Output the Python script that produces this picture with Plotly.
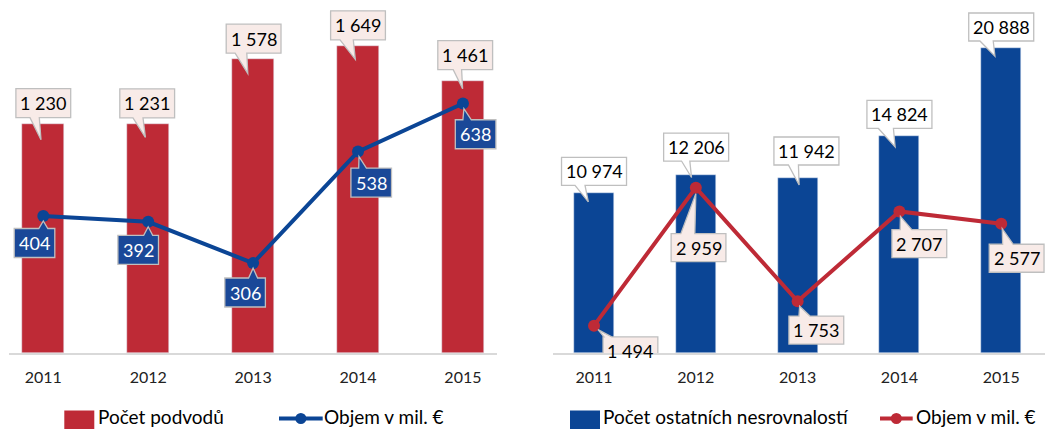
import plotly.graph_objects as go

# ---------------- data ----------------
years = ["2011", "2012", "2013", "2014", "2015"]
fraud_count = [1230, 1231, 1578, 1649, 1461]          # Počet podvodů
fraud_volume = [404, 392, 306, 538, 638]              # Objem v mil. € (left)
other_count = [10974, 12206, 11942, 14824, 20888]     # Počet ostatních nesrovnalostí
other_volume = [1494, 2959, 1753, 2707, 2577]         # Objem v mil. € (right)

legend_left = ["Počet podvodů", "Objem v mil. €"]
legend_right = ["Počet ostatních nesrovnalostí", "Objem v mil. €"]

# ---------------- styles / layout ----------------
W, H = 1048, 429
RED = "#BE2A36"
BLUE = "#0B4595"
PINK = "#F8EBE8"
GRAY = "#BFBFBF"
FONT = "Lato"

# callout placement in pixels relative to the anchor point (up positive):
# (box centre dx, box centre dy, tip dx, tip dy, wedge base x1, wedge base x2)
lb_call = [(0, 21, -2.3, -15.7, -13.3, -4), (-1, 20.5, -2.8, -13.5, -15.2, -5.2),
           (0.5, 20.7, -5.3, -14.1, -18, -6.3), (0, 20.8, -2.7, -13.3, -18, -4.7),
           (2.3, 26, -0.3, -7.7, -9.7, -1.3)]
ll_call = [(-8.8, -27, 0, -5, -4.5, 4.5), (-10, -28, 0, -5, -4.5, 4.5),
           (-8, -29.4, 0, -5, -4.5, 4.5), (13.2, -31, 1, -5, 0.7, 8.4),
           (12.7, -30.7, 1, -5, 0, 8.4)]
rb_call = [(0, 21.1, -5.7, -9.4, -19, -9), (0.3, 27.5, -4.3, -3, -14.3, -6),
           (8.8, 27.4, 1.5, -6.6, -9.2, 0.8), (0, 21.8, -4.3, -10.7, -21, -6),
           (0, 20.6, -6.3, -8.7, -21.3, -8)]
rl_call = [(36.4, -25.2, 4, -4, 9.9, 17.7), (2.7, -60, 0, -6, -15, -1),
           (18.7, -28.8, 2, -5, 1.3, 12.3), (19.9, -32.3, 1, -5, 0.7, 12.4),
           (15.4, -34.6, 1, -5, 1.4, 12)]


def fmt(v):
    return f"{v:,}".replace(",", " ")


def px_x(p):
    return p / W


def px_y(p):
    return 1 - p / H


fig = go.Figure()

# left chart
fig.add_trace(go.Bar(x=list(range(len(years))), y=fraud_count, marker_color=RED,
                     width=0.4, xaxis="x", yaxis="y", showlegend=False,
                     name=legend_left[0]))
fig.add_trace(go.Scatter(x=list(range(len(years))), y=fraud_volume, mode="lines+markers",
                         line=dict(color=BLUE, width=4), marker=dict(size=12, color=BLUE),
                         xaxis="x", yaxis="y2", showlegend=False, name=legend_left[1]))
# right chart
fig.add_trace(go.Bar(x=list(range(len(years))), y=other_count, marker_color=BLUE,
                     width=0.393, xaxis="x2", yaxis="y3", showlegend=False,
                     name=legend_right[0]))
fig.add_trace(go.Scatter(x=list(range(len(years))), y=other_volume, mode="lines+markers",
                         line=dict(color=RED, width=4), marker=dict(size=12, color=RED),
                         xaxis="x2", yaxis="y4", showlegend=False, name=legend_right[1]))

shapes = []
annotations = []


def callout(i, v, xref, yref, spec, fill, txtcolor, h):
    cx, cy, tx, ty, b1, b2 = spec
    text = fmt(v)
    nd = sum(c.isdigit() for c in text)
    ns = text.count(" ")
    w = 10.2 * nd + 4 * ns + 10
    L, R = cx - w / 2, cx + w / 2
    T, B = cy + h / 2, cy - h / 2
    if ty < B:  # wedge on bottom edge
        path = (f"M{L},{T} L{R},{T} L{R},{B} L{b2},{B} L{tx},{ty} "
                f"L{b1},{B} L{L},{B} Z")
    else:       # wedge on top edge
        path = (f"M{L},{B} L{L},{T} L{b1},{T} L{tx},{ty} L{b2},{T} "
                f"L{R},{T} L{R},{B} Z")
    shapes.append(dict(type="path", path=path, xref=xref, yref=yref,
                       xsizemode="pixel", ysizemode="pixel", xanchor=i, yanchor=v,
                       fillcolor=fill, line=dict(color=GRAY, width=1.3), layer="above"))
    annotations.append(dict(x=i, y=v, xref=xref, yref=yref, text=text, showarrow=False,
                            xshift=cx, yshift=cy, xanchor="center", yanchor="middle",
                            font=dict(family=FONT, size=18, color=txtcolor)))


for i, v in enumerate(fraud_count):
    callout(i, v, "x", "y", lb_call[i], PINK, "#000000", 29)
for i, v in enumerate(fraud_volume):
    callout(i, v, "x", "y2", ll_call[i], "#1A4898", "#FFFFFF", 29)
for i, v in enumerate(other_count):
    callout(i, v, "x2", "y3", rb_call[i], "#FFFFFF", "#000000", 28)
for i, v in enumerate(other_volume):
    callout(i, v, "x2", "y4", rl_call[i], PINK, "#000000", 28)

# ---------------- custom legends ----------------
LEG_Y = 416.5


def legend_box(x0, x1, color, label, tx):
    shapes.append(dict(type="rect", xref="paper", yref="paper", x0=px_x(x0), x1=px_x(x1),
                       y0=px_y(430), y1=px_y(410.5), fillcolor=color, line=dict(width=0)))
    annotations.append(dict(x=px_x(tx), y=px_y(LEG_Y), xref="paper", yref="paper",
                            text=label, showarrow=False, xanchor="left", yanchor="middle",
                            font=dict(family=FONT, size=19, color="#000000")))


def legend_line(x0, x1, color, label, tx):
    ly = LEG_Y + 2
    yc = px_y(ly)
    shapes.append(dict(type="line", xref="paper", yref="paper", x0=px_x(x0), x1=px_x(x1),
                       y0=yc, y1=yc, line=dict(color=color, width=4)))
    xm = (x0 + x1) / 2
    shapes.append(dict(type="circle", xref="paper", yref="paper",
                       x0=px_x(xm - 5.5), x1=px_x(xm + 5.5),
                       y0=px_y(ly + 5.5), y1=px_y(ly - 5.5),
                       fillcolor=color, line=dict(width=0)))
    annotations.append(dict(x=px_x(tx), y=px_y(LEG_Y), xref="paper", yref="paper",
                            text=label, showarrow=False, xanchor="left", yanchor="middle",
                            font=dict(family=FONT, size=19, color="#000000")))


legend_box(64.3, 94.3, RED, legend_left[0], 96)
legend_line(279, 322.7, BLUE, legend_left[1], 322)
legend_box(570, 600, BLUE, legend_right[0], 601)
legend_line(880, 912.7, RED, legend_right[1], 914)

ydom = [px_y(353), px_y(5)]
xaxis_common = dict(showgrid=False, zeroline=False, showline=True, linecolor="#D9D9D9",
                    linewidth=1.5, ticks="", tickfont=dict(family=FONT, size=16, color="#222222"),
                    tickvals=list(range(len(years))), ticktext=years, ticklabelstandoff=9,
                    fixedrange=True)
yaxis_common = dict(showgrid=False, zeroline=False, showline=False, showticklabels=False,
                    ticks="", fixedrange=True)

fig.update_layout(
    width=W, height=H,
    margin=dict(l=0, r=0, t=0, b=0),
    paper_bgcolor="white", plot_bgcolor="white",
    showlegend=False,
    xaxis=dict(domain=[px_x(9), px_x(497)], range=[-0.327, 4.325], anchor="y", **xaxis_common),
    yaxis=dict(domain=ydom, range=[0, 1870], anchor="x", **yaxis_common),
    yaxis2=dict(overlaying="y", range=[119, 843], anchor="x", **yaxis_common),
    xaxis2=dict(domain=[px_x(553), px_x(1045)], range=[-0.403, 4.43], anchor="y3", **xaxis_common),
    yaxis3=dict(domain=ydom, range=[0, 23800], anchor="x2", **yaxis_common),
    yaxis4=dict(overlaying="y3", range=[1204, 4898], anchor="x2", **yaxis_common),
    shapes=shapes,
    annotations=annotations,
    bargap=0,
)

fig.write_html(
    "out.html",
    config={"displayModeBar": False},
    post_script="document.body.style.margin='0';document.body.style.overflow='hidden';",
)
